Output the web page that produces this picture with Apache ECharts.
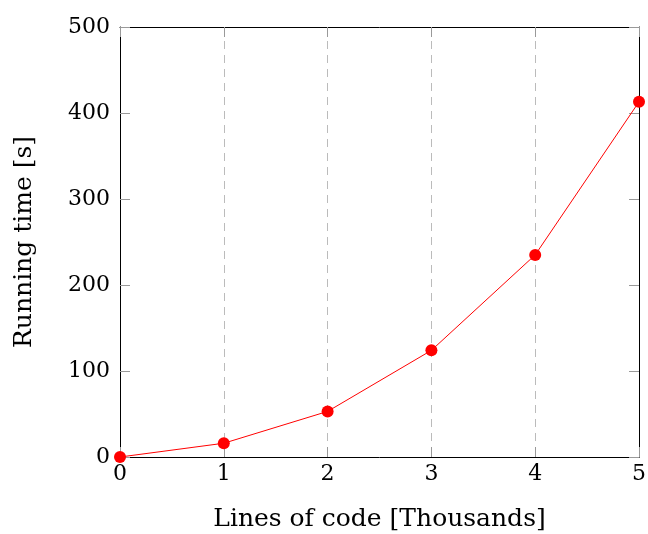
<!DOCTYPE html>
<html><head><meta charset="utf-8">
<script src="https://cdn.jsdelivr.net/npm/echarts@6/dist/echarts.min.js"></script>
<style>html,body{margin:0;padding:0;background:#fff}#c{width:648px;height:534px}</style>
</head><body><div id="c"></div>
<script>
const xValues = [0, 1, 2, 3, 4, 5];
const runningTime = [0, 16, 53, 124, 235, 413];
const xLabel = 'Lines of code [Thousands]';
const yLabel = 'Running time [s]';

const font = 'DejaVu Serif';
const chart = echarts.init(document.getElementById('c'));
const tickStyle = {show: true, inside: true, length: 10, lineStyle: {color: '#999', width: 1}};
chart.setOption({
  animation: false,
  grid: {left: 120, top: 27, width: 519, height: 430, containLabel: false, outerBoundsMode: 'none'},
  xAxis: [{
    type: 'value', min: 0, max: 5, interval: 1, position: 'bottom',
    name: xLabel, nameLocation: 'middle', nameGap: 50,
    nameTextStyle: {fontFamily: font, fontSize: 25, color: '#000'},
    axisLine: {show: true, onZero: false, lineStyle: {color: '#000', width: 1}},
    axisTick: tickStyle,
    axisLabel: {fontFamily: font, fontSize: 22, color: '#000', margin: 6},
    splitLine: {show: true, lineStyle: {color: '#bbb', type: [8, 6], width: 1}}
  }, {
    type: 'value', min: 0, max: 5, interval: 1, position: 'top',
    axisLine: {show: true, onZero: false, lineStyle: {color: '#000', width: 1}},
    axisTick: tickStyle, axisLabel: {show: false}, splitLine: {show: false}
  }],
  yAxis: [{
    type: 'value', min: 0, max: 500, interval: 100, position: 'left',
    name: yLabel, nameLocation: 'middle', nameGap: 83,
    nameTextStyle: {fontFamily: font, fontSize: 25, color: '#000'},
    axisLine: {show: true, onZero: false, lineStyle: {color: '#000', width: 1}},
    axisTick: tickStyle,
    axisLabel: {fontFamily: font, fontSize: 22, color: '#000', margin: 10},
    splitLine: {show: false}
  }, {
    type: 'value', min: 0, max: 500, interval: 100, position: 'right',
    axisLine: {show: true, onZero: false, lineStyle: {color: '#000', width: 1}},
    axisTick: tickStyle, axisLabel: {show: false}, splitLine: {show: false}
  }],
  series: [{
    type: 'line',
    data: xValues.map((x, i) => [x, runningTime[i]]),
    xAxisIndex: 0, yAxisIndex: 0,
    symbol: 'circle', symbolSize: 12,
    itemStyle: {color: '#ff0000'},
    lineStyle: {color: '#ff0000', width: 1},
    clip: false
  }]
});
</script></body></html>
